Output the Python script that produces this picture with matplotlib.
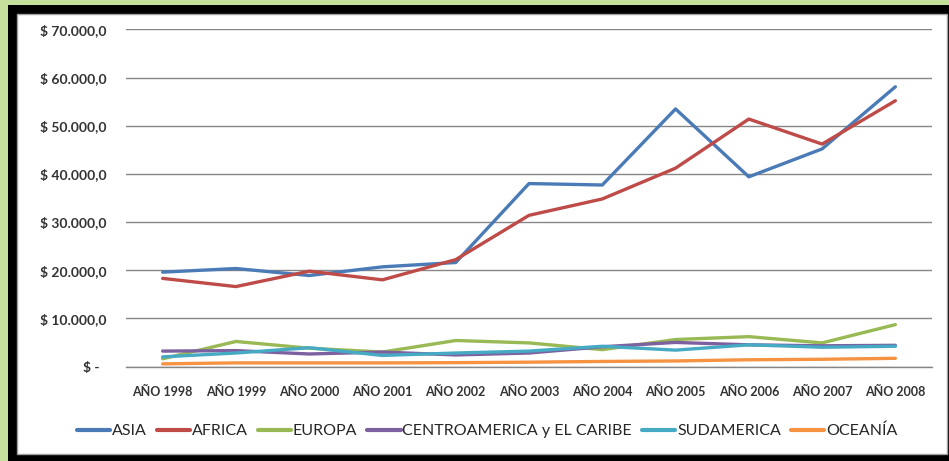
import matplotlib
matplotlib.use("Agg")
import matplotlib.pyplot as plt
from matplotlib.patches import Rectangle
from matplotlib.ticker import FuncFormatter, MultipleLocator

plt.rcParams['font.family'] = ['Lato', 'DejaVu Sans']

years = ["AÑO 1998", "AÑO 1999", "AÑO 2000", "AÑO 2001", "AÑO 2002", "AÑO 2003",
         "AÑO 2004", "AÑO 2005", "AÑO 2006", "AÑO 2007", "AÑO 2008"]
asia = [19600, 20350, 18900, 20700, 21600, 38000, 37700, 53500, 39400, 45200, 58100]
africa = [18300, 16600, 19800, 18000, 22200, 31400, 34800, 41200, 51400, 46200, 55200]
europa = [1600, 5200, 3800, 3000, 5400, 4900, 3500, 5600, 6200, 4900, 8700]
centro = [3200, 3300, 2600, 3000, 2400, 2800, 4100, 5000, 4500, 4300, 4400]
sudam = [2000, 2800, 3900, 2300, 2800, 3200, 4200, 3400, 4500, 4000, 4200]
oceania = [550, 750, 750, 750, 800, 900, 1050, 1150, 1400, 1500, 1700]

series = [
    ("ASIA", asia, "#4A7BB7"),
    ("AFRICA", africa, "#BE4B48"),
    ("EUROPA", europa, "#98B954"),
    ("CENTROAMERICA y EL CARIBE", centro, "#7D60A0"),
    ("SUDAMERICA", sudam, "#46AAC5"),
    ("OCEANÍA", oceania, "#F59342"),
]

W, H = 949, 461
fig = plt.figure(figsize=(W / 100, H / 100), dpi=100)
fig.patch.set_facecolor("#c5df9c")

# black frame
fig.patches.append(Rectangle((8 / W, 0), 1, (H - 5) / H, transform=fig.transFigure,
                             facecolor="black", edgecolor="none", zorder=-3))
# white chart area with thin gray border
fig.patches.append(Rectangle((17 / W, (H - 454) / H), (947 - 17) / W, (454 - 14) / H,
                             transform=fig.transFigure, facecolor="white",
                             edgecolor="#a0a0a0", linewidth=1.0, zorder=-2))

ax = fig.add_axes([126 / W, (H - 366.5) / H, (932 - 126) / W, (366.5 - 29.5) / H])
ax.set_facecolor("none")
x = list(range(len(years)))
for name, vals, col in series:
    ax.plot(x, vals, color=col, lw=2.4, label=name, solid_capstyle="round",
            solid_joinstyle="round")

ax.set_xlim(-0.5, len(years) - 0.5)
ax.set_ylim(0, 70000)
ax.yaxis.set_major_locator(MultipleLocator(10000))

def fmt(v, pos):
    if v == 0:
        return "$ -  "
    s = f"{v:,.1f}".replace(",", "X").replace(".", ",").replace("X", ".")
    return "$ " + s

ax.yaxis.set_major_formatter(FuncFormatter(fmt))
ax.set_xticks(x)
ax.set_xticklabels(years)
ax.grid(axis="y", color="#868686", lw=1.0)
ax.set_axisbelow(True)
for s in ["top", "right", "left"]:
    ax.spines[s].set_visible(False)
ax.spines["bottom"].set_color("#868686")
ax.spines["bottom"].set_linewidth(1.0)
ax.tick_params(axis="both", length=0)
ax.tick_params(axis="y", pad=14, labelsize=10, labelcolor="#333333")
ax.tick_params(axis="x", pad=14, labelsize=9, labelcolor="#333333")
for lbl in ax.get_yticklabels() + ax.get_xticklabels():
    lbl.set_fontweight("bold")

leg = fig.legend(loc="center", bbox_to_anchor=(487 / W, (H - 431) / H), ncol=6,
                 frameon=False, fontsize=11.5, handlelength=2.1, handletextpad=0.1,
                 columnspacing=0.62, labelcolor="#262626")
for line in leg.get_lines():
    line.set_linewidth(3)

fig.savefig("out.png", dpi=100, facecolor=fig.get_facecolor())
